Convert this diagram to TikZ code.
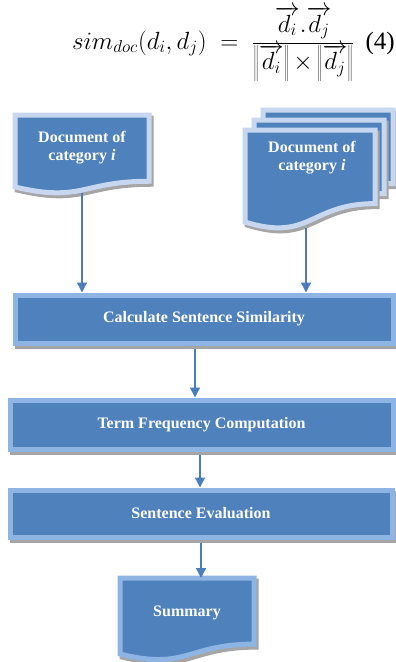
\documentclass[tikz,border=0pt]{standalone}
\usepackage{fontspec}
\setmainfont{Liberation Serif}
\usetikzlibrary{calc,arrows.meta,shadows}

\definecolor{docblue}{HTML}{4F81BD}
\definecolor{edgepale}{HTML}{C6D7EF}
\definecolor{edgeblue}{HTML}{8DB4E2}
\definecolor{shadowgray}{HTML}{A5A5A5}
\definecolor{arrowblue}{HTML}{4A7EBB}

\tikzset{
  boxshadow/.style={drop shadow={shadow xshift=2pt, shadow yshift=-3pt, fill=shadowgray, draw=shadowgray, line width=5pt, opacity=1}},
  procbox/.style={draw=edgeblue, line width=5pt, fill=docblue, inner sep=0pt, boxshadow, text=white, font=\fontsize{16}{18}\selectfont\bfseries},
  holder/.style={inner sep=0pt, outer sep=0pt},
  docline/.style={draw=#1, line width=5pt, fill=docblue, boxshadow},
  doctext/.style={text=white, align=center, font=\fontsize{16}{18}\selectfont\bfseries},
  flow/.style={arrowblue, line width=1.3pt, -{Triangle[width=10pt,length=10pt]}},
}

% 文档形状的外框 (#1 样式, #2 节点名, #3 右下角高度比例)
\newcommand\docoutline[3]{%
  \draw[#1] (#2.north west) -- (#2.north east) -- ($(#2.north east)!#3!(#2.south east)$)
    .. controls ($(#2.north)!#3!(#2.south)$) and ($(#2.north)!1.22!(#2.south)$) .. (#2.south west) -- cycle;}

\begin{document}
\begin{tikzpicture}[x=1pt, y=-1pt]

    \useasboundingbox (0,0) rectangle (396,662);

    % 公式 (4)
    \node[anchor=base west, inner sep=0pt] (eq) at (72,49) {\fontsize{24.5}{28}\selectfont
      $\displaystyle sim_{doc}(d_i,d_j)\;=\;\frac{\overrightarrow{d_i}.\overrightarrow{d_j}}{\left\|\overrightarrow{d_i}\right\|{\times}\left\|\overrightarrow{d_j}\right\|}$};
    \node[anchor=base east, inner sep=0pt] (eqno) at (395,49) {\fontsize{25}{28}\selectfont (4)};

    % 左侧单个文档
    \node[holder, minimum width=134pt, minimum height=72pt] (docA) at (82,151) {};
    \docoutline{docline=edgepale}{docA}{0.92}
    \node[doctext] (docA-t) at ([yshift=-33pt]docA.north) {Document of\\category \textit{i}};

    % 右侧多个文档 (三层叠放)
    \node[holder, minimum width=130pt, minimum height=92pt] (docB) at (310,176) {};
    \node[holder, minimum width=130pt, minimum height=92pt] (docB2) at (319,166) {};
    \node[holder, minimum width=130pt, minimum height=92pt] (docB3) at (328,156) {};
    \docoutline{docline=edgepale}{docB3}{0.80}
    \docoutline{docline=edgepale}{docB2}{0.80}
    \docoutline{docline=edgepale}{docB}{0.80}
    \node[doctext] (docB-t) at ([shift={(2pt,-28pt)}]docB.north) {Document of\\category \textit{i}};

    % 三个处理步骤
    \node[procbox, minimum width=378pt, minimum height=48pt] (calc) at (204,319) {Calculate Sentence Similarity};
    \node[procbox, minimum width=383pt, minimum height=49pt] (term) at (201.5,424.5) {Term Frequency Computation};
    \node[procbox, minimum width=382pt, minimum height=47pt] (eval) at (201,513.5) {Sentence Evaluation};

    % 摘要文档
    \node[holder, minimum width=134pt, minimum height=76pt] (summ) at (187,616) {};
    \docoutline{docline=edgeblue}{summ}{0.87}
    \node[doctext] (summ-t) at ([yshift=-35pt]summ.north) {Summary};

    % 箭头
    \draw[flow, shorten <=6pt] (docA.south) -- (docA.south |- calc.north);
    \draw[flow, shorten <=6pt] ([xshift=-4pt]docB.south) -- ([xshift=-4pt]docB.south |- calc.north);
    \draw[flow, shorten <=3pt] ([xshift=-9pt]calc.south) -- ([xshift=-9pt]calc.south |- term.north);
    \draw[flow, shorten <=3pt] ([xshift=-1.5pt]term.south) -- ([xshift=-1.5pt]term.south |- eval.north);
    \draw[flow, shorten <=3pt] (eval.south) -- (eval.south |- summ.north);

\end{tikzpicture}
\end{document}
